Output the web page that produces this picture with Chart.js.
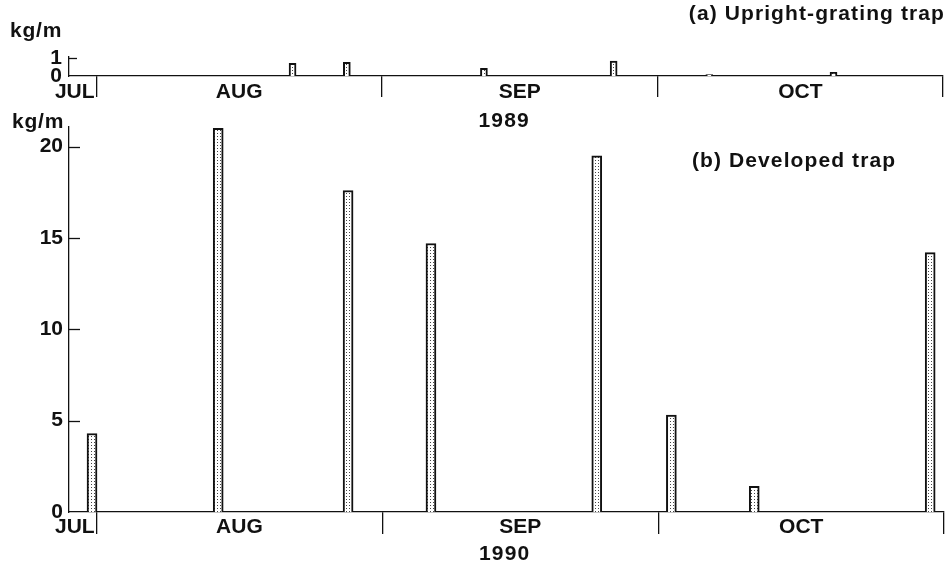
<!DOCTYPE html>
<html><head><meta charset="utf-8">
<script src="https://cdn.jsdelivr.net/npm/chart.js@4"></script>
<style>
html,body{margin:0;padding:0;background:#fff;}
#wrap{position:relative;width:947px;height:564px;overflow:hidden;background:#fff;}
canvas{position:absolute;left:0;}
#ca{top:0;}
#cb{top:108px;}
</style></head><body>
<div id="wrap">
<canvas id="ca" width="947" height="135"></canvas>
<canvas id="cb" width="947" height="456"></canvas>
</div>
<script>
// ---- data (x = day offset from 1 Aug; bars centred on sampling day) ----
const monthNames = ['JUL', 'AUG', 'SEP', 'OCT'];
const monthStarts = [0, 31, 61, 92];          // 1 Aug, 1 Sep, 1 Oct, 1 Nov
const xMin = -3, xMax = 92;

const topDays   = [21.3, 27.2, 42.1, 56.2, 66.6, 80.1];
const topValues = [0.70, 0.76, 0.43, 0.83, 0.08, 0.20];

const bottomDays   = [-0.5, 13.2, 27.3, 36.3, 54.3, 62.4, 71.4, 90.5];
const bottomValues = [4.3, 21.0, 17.6, 14.7, 19.5, 5.3, 1.4, 14.2];

const topYTicks = [0, 1];
const bottomYTicks = [0, 5, 10, 15, 20];
const topYMax = 1.05;
const bottomYMax = 21.1;

const unitLabel = 'kg/m';
const titleTop = '(a) Upright-grating trap';
const titleBottom = '(b) Developed trap';
const yearTop = '1989';
const yearBottom = '1990';
const yearLabelDay = 44.3;

// ---- styling ----
const FONT = '"Liberation Sans", Arial, Helvetica, sans-serif';
const INK = '#111';
Chart.defaults.font.family = FONT;
Chart.defaults.font.weight = 'bold';
Chart.defaults.font.size = 21;
Chart.defaults.color = INK;

function stipple() {
  const c = document.createElement('canvas');
  c.width = 3; c.height = 3;
  const g = c.getContext('2d');
  g.fillStyle = '#fff'; g.fillRect(0, 0, 3, 3);
  g.fillStyle = '#444'; g.fillRect(1, 1, 1, 1);
  return g.createPattern(c, 'repeat');
}
const pattern = stipple();

function textPlugin(items) {
  return {
    id: 'txt',
    afterDraw(chart) {
      const ctx = chart.ctx, xs = chart.scales.x;
      ctx.save();
      ctx.fillStyle = INK;
      ctx.textBaseline = 'alphabetic';
      for (const it of items) {
        ctx.font = 'bold ' + (it.size || 21) + 'px ' + FONT;
        if ('letterSpacing' in ctx) ctx.letterSpacing = (it.ls || 0) + 'px';
        ctx.textAlign = it.align || 'center';
        const px = it.day !== undefined ? xs.getPixelForValue(it.day) + (it.dx || 0) : it.x;
        ctx.fillText(it.text, px, it.y);
      }
      ctx.restore();
    }
  };
}

function inwardTicks(len) {
  return {
    id: 'inTicks',
    afterDraw(chart) {
      const ys = chart.scales.y, ctx = chart.ctx;
      ctx.save();
      ctx.strokeStyle = INK; ctx.lineWidth = 1.3;
      ys.ticks.forEach(t => {
        if (t.value === 0) return;
        const py = Math.round(ys.getPixelForValue(t.value)) + 0.5;
        ctx.beginPath(); ctx.moveTo(ys.right, py); ctx.lineTo(ys.right + len, py); ctx.stroke();
      });
      ctx.restore();
    }
  };
}

function monthItems(y) {
  const items = [{ text: monthNames[0], day: monthStarts[0], dx: -2, align: 'right', y }];
  for (let i = 1; i < monthNames.length; i++) {
    items.push({ text: monthNames[i], day: (monthStarts[i - 1] + monthStarts[i]) / 2, y });
  }
  return items;
}

function makeChart(id, days, values, yMax, yTicks, barW, xHeight, padding, tickLen, extraItems, inLen, yPad) {
  return new Chart(document.getElementById(id), {
    type: 'bar',
    data: {
      datasets: [{
        data: days.map((d, i) => ({ x: d, y: values[i] })),
        backgroundColor: pattern,
        borderColor: INK,
        borderWidth: 2,
        barThickness: barW
      }]
    },
    options: {
      responsive: false,
      animation: false,
      layout: { padding },
      plugins: { legend: { display: false }, tooltip: { enabled: false }, title: { display: false } },
      scales: {
        x: {
          type: 'linear', min: xMin, max: xMax, offset: false,
          afterBuildTicks: s => { s.ticks = monthStarts.map(v => ({ value: v })); },
          afterFit: s => { s.height = xHeight; },
          grid: { display: true, offset: false, drawOnChartArea: false, drawTicks: true, tickLength: tickLen, color: INK, lineWidth: 1.3 },
          border: { display: true, color: INK, width: 1.3 },
          ticks: { display: true, autoSkip: false, callback: () => '', maxRotation: 0 }
        },
        y: {
          min: 0, max: yMax,
          afterBuildTicks: s => { s.ticks = yTicks.map(v => ({ value: v })); },
          afterFit: s => { s.width = 69; },
          grid: { display: false, drawTicks: false },
          border: { display: true, color: INK, width: 1.3 },
          ticks: { padding: yPad, autoSkip: false, color: INK, font: { size: 21, weight: 'bold' } }
        }
      }
    },
    plugins: [inwardTicks(inLen), textPlugin(extraItems)]
  });
}

// top panel: chart area 57..76 (canvas at y=0, height 135)
makeChart('ca', topDays, topValues, topYMax, topYTicks, 7, 59,
  { top: 57, right: 4, left: 0, bottom: 0 }, 21,
  [
    { text: titleTop, x: 945, y: 20, align: 'right', ls: 1.1 },
    { text: unitLabel, x: 10, y: 37, align: 'left', ls: 0.8 },
    ...monthItems(97.5),
    { text: yearTop, day: yearLabelDay, y: 127, ls: 1.2 }
  ], 8, 7);

// bottom panel: chart area 125..512 on page (canvas at y=108, height 456)
makeChart('cb', bottomDays, bottomValues, bottomYMax, bottomYTicks, 10, 52,
  { top: 17, right: 2, left: 0, bottom: 0 }, 22,
  [
    { text: titleBottom, x: 692, y: 59, align: 'left', ls: 1.1 },
    { text: unitLabel, x: 12, y: 19.5, align: 'left', ls: 0.8 },
    ...monthItems(425),
    { text: yearBottom, day: yearLabelDay, y: 452, ls: 1.2 }
  ], 11, 6);
</script>
</body></html>
